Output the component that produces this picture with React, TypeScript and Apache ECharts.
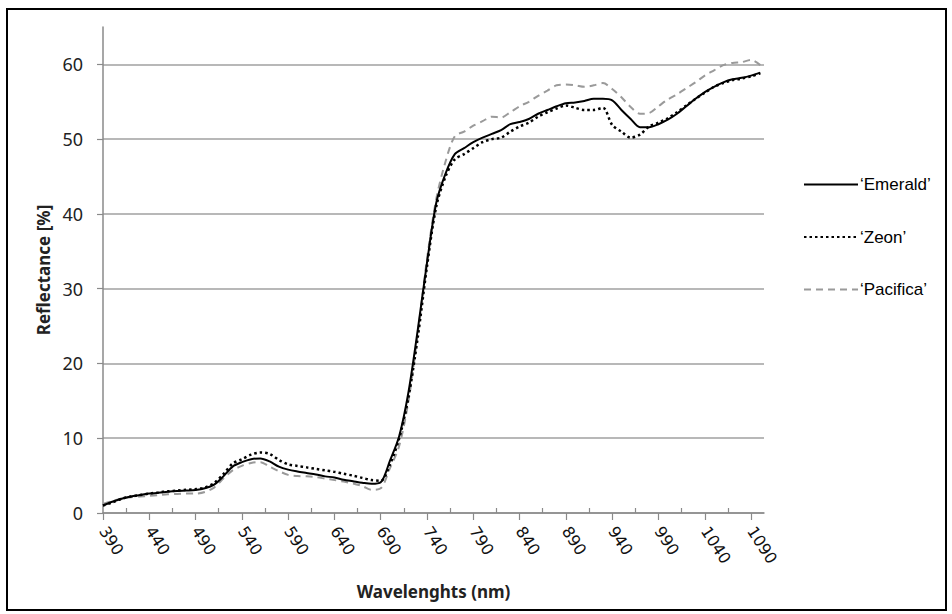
import React, { useEffect, useRef } from "react";
import * as echarts from "echarts";

const wavelengths = [
  390, 400, 410, 420, 430, 440, 450, 460, 470, 480, 490, 500, 510, 520, 530, 540, 550, 560, 570, 580,
  590, 600, 610, 620, 630, 640, 650, 660, 670, 680, 690, 700, 710, 720, 730, 740, 750, 760, 770, 780,
  790, 800, 810, 820, 830, 840, 850, 860, 870, 880, 890, 900, 910, 920, 930, 940, 950, 960, 970, 980,
  990, 1000, 1010, 1020, 1030, 1040, 1050, 1060, 1070, 1080, 1090, 1100,
];

const emerald = [
  1.0, 1.5, 1.9, 2.2, 2.4, 2.6, 2.7, 2.85, 2.95, 3.0, 3.07, 3.3, 3.8, 4.9, 6.2, 6.8, 7.2, 7.3, 6.9, 6.2,
  5.8, 5.55, 5.35, 5.15, 4.9, 4.75, 4.45, 4.25, 4.05, 3.9, 4.1, 7.0, 10.3, 16.2, 24.5, 33.5, 41.5, 45.4, 48.0, 48.8,
  49.6, 50.2, 50.7, 51.2, 52.0, 52.3, 52.7, 53.4, 53.9, 54.4, 54.8, 54.9, 55.1, 55.4, 55.4, 55.2, 53.9, 52.7, 51.6, 51.6,
  52.0, 52.6, 53.4, 54.4, 55.4, 56.3, 57.0, 57.6, 58.0, 58.2, 58.5, 58.9,
];

const zeon = [
  1.0, 1.4, 1.9, 2.2, 2.4, 2.6, 2.75, 2.9, 3.0, 3.1, 3.2, 3.4, 4.0, 5.2, 6.6, 7.2, 7.8, 8.1, 7.9, 7.1,
  6.5, 6.3, 6.1, 5.9, 5.7, 5.5, 5.25, 5.0, 4.7, 4.4, 4.3, 6.5, 10.0, 15.5, 23.5, 33.0, 41.0, 45.0, 47.3, 48.0,
  48.8, 49.6, 50.0, 50.2, 51.0, 51.7, 52.2, 53.0, 53.6, 54.1, 54.5, 54.2, 53.9, 53.9, 54.2, 51.9, 51.0, 50.2, 50.6, 51.7,
  52.2, 52.8, 53.6, 54.5, 55.4, 56.2, 57.0, 57.5, 57.9, 58.1, 58.4, 58.8,
];

const pacifica = [
  1.2, 1.6, 1.9, 2.1, 2.2, 2.3, 2.4, 2.5, 2.55, 2.6, 2.6, 2.8, 3.4, 4.6, 5.7, 6.3, 6.7, 6.8, 6.2, 5.6,
  5.1, 4.95, 4.9, 4.8, 4.6, 4.4, 4.2, 3.95, 3.6, 3.1, 3.3, 6.0, 9.0, 15.0, 24.0, 34.0, 42.0, 47.0, 50.4, 51.0,
  51.8, 52.4, 53.0, 52.9, 53.6, 54.4, 55.0, 55.8, 56.5, 57.2, 57.3, 57.2, 57.0, 57.2, 57.5, 56.7, 55.6, 54.3, 53.4, 53.5,
  54.4, 55.3, 56.0, 56.8, 57.6, 58.5, 59.2, 59.9, 60.2, 60.3, 60.6, 59.9,
];

const xMajorTicks = [390, 440, 490, 540, 590, 640, 690, 740, 790, 840, 890, 940, 990, 1040, 1090];
const xMinorTicks = [415, 465, 515, 565, 615, 665, 715, 765, 815, 865, 915, 965, 1015, 1065];
const yTicks = [0, 10, 20, 30, 40, 50, 60];

const seriesNames = ["\u2018Emerald\u2019", "\u2018Zeon\u2019", "\u2018Pacifica\u2019"];

const toPairs = (vals: number[]) => wavelengths.map((w, i) => [w, vals[i]]);

export default function App() {
  const ref = useRef<HTMLDivElement>(null);

  useEffect(() => {
    if (!ref.current) return;
    const chart = echarts.init(ref.current, undefined, { renderer: "svg" });
    const axisColor = "#8a8a8a";
    chart.setOption({
      animation: false,
      backgroundColor: "#ffffff",
      grid: { left: 103, right: 188, top: 27, bottom: 101, containLabel: false },
      graphic: [
        {
          type: "rect",
          shape: { x: 7, y: 9, width: 939, height: 601 },
          style: { fill: "none", stroke: "#000", lineWidth: 2 },
          silent: true,
        },
      ],
      legend: {
        orient: "vertical",
        left: 803,
        top: 176,
        padding: 0,
        itemWidth: 54,
        itemHeight: 14,
        itemGap: 35.5,
        itemStyle: { opacity: 0 },
        data: seriesNames,
        textStyle: { fontFamily: "Liberation Sans", fontSize: 17, color: "#000", padding: [0, 0, 0, -3] },
      },
      xAxis: [
        {
          type: "value",
          min: 390,
          max: 1104,
          interval: 50,
          position: "bottom",
          name: "Wavelenghts (nm)",
          nameLocation: "middle",
          nameGap: 70,
          nameTextStyle: { fontFamily: "Noto Sans", fontWeight: "bold", fontSize: 17, color: "#222" },
          axisLine: { show: true, lineStyle: { color: axisColor, width: 1.5 } },
          axisTick: { show: true, length: 7, inside: false, customValues: xMajorTicks, lineStyle: { color: axisColor, width: 1.2 } },
          axisLabel: {
            customValues: xMajorTicks,
            formatter: (v: number) => String(v),
            rotate: -57,
            margin: 15,
            fontFamily: "DejaVu Sans",
            fontSize: 16,
            color: "#111",
          },
          splitLine: { show: false },
        },
        {
          type: "value",
          min: 390,
          max: 1104,
          interval: 50,
          position: "bottom",
          axisLine: { show: false },
          axisTick: { show: true, length: 5, inside: true, customValues: xMinorTicks, lineStyle: { color: axisColor, width: 1.2 } },
          axisLabel: { show: false },
          splitLine: { show: false },
        },
      ],
      yAxis: {
        type: "value",
        min: 0,
        max: 65,
        interval: 10,
        name: "Reflectance [%]",
        nameLocation: "middle",
        nameGap: 49,
        nameTextStyle: { fontFamily: "Noto Sans", fontWeight: "bold", fontSize: 17, color: "#222" },
        axisLine: { show: true, lineStyle: { color: axisColor, width: 1.5 } },
        axisTick: { show: true, length: 6, customValues: yTicks, lineStyle: { color: axisColor, width: 1.2 } },
        axisLabel: { customValues: yTicks, margin: 20, fontFamily: "Noto Sans", fontSize: 18, color: "#222" },
        splitLine: { show: true, lineStyle: { color: "#a0a0a0", width: 1.5 } },
      },
      series: [
        {
          name: seriesNames[2],
          type: "line",
          data: toPairs(pacifica),
          symbol: "none",
          smooth: 0.3,
          z: 1,
          lineStyle: { color: "#9a9a9a", width: 2, type: [7, 5] },
          itemStyle: { color: "#9a9a9a" },
        },
        {
          name: seriesNames[1],
          type: "line",
          data: toPairs(zeon),
          symbol: "none",
          smooth: 0.3,
          z: 3,
          lineStyle: { color: "#000", width: 2.5, type: [2.5, 3] },
          itemStyle: { color: "#000" },
        },
        {
          name: seriesNames[0],
          type: "line",
          data: toPairs(emerald),
          symbol: "none",
          smooth: 0.3,
          z: 2,
          lineStyle: { color: "#000", width: 2 },
          itemStyle: { color: "#000" },
        },
      ],
    });
    return () => chart.dispose();
  }, []);

  return (
    <div
      ref={ref}
      style={{ position: "fixed", left: 0, top: 0, width: 952, height: 614, background: "#fff" }}
    />
  );
}
